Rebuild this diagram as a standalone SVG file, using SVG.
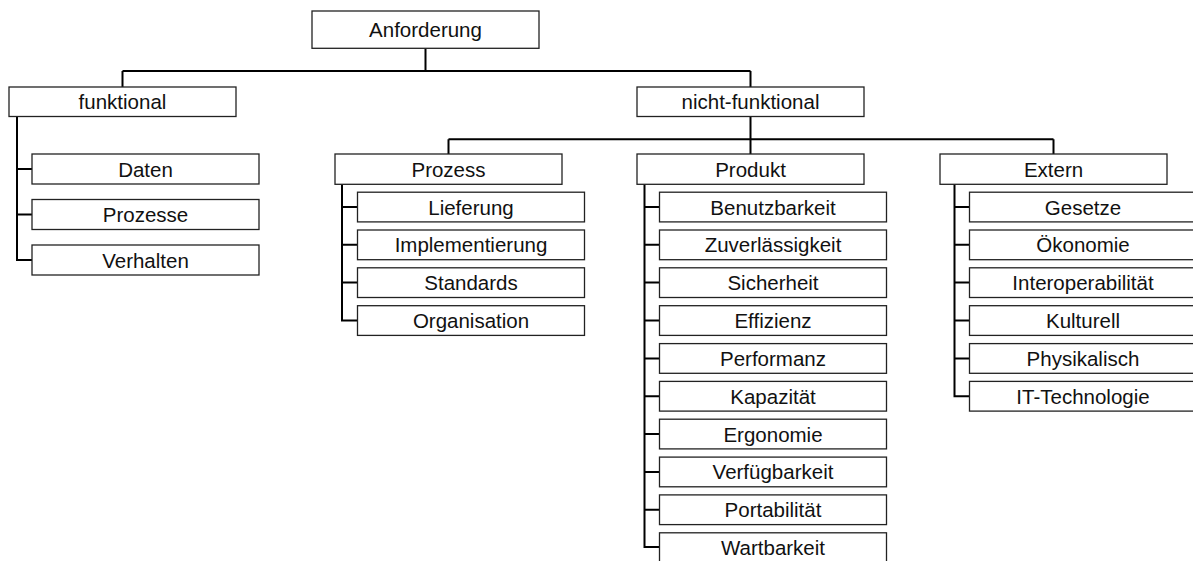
<svg xmlns="http://www.w3.org/2000/svg" width="1193" height="561" viewBox="0 0 1193 561">
  <style>
    .box { fill: #fff; stroke: #222; stroke-width: 1.3; }
    .lbl { font-family: "Liberation Sans", Arial, Helvetica, sans-serif; font-size: 20.5px; fill: #111; text-anchor: middle; }
    .wire { fill: none; stroke: #000; stroke-width: 2; }
  </style>
  <rect width="1193" height="561" fill="#fff"/>

  <!-- connectors -->
  <g id="connectors" class="wire">
    <!-- root to first level -->
    <path d="M425.5 48.5 V71 M122.5 71 H750.5 M122.5 71 V87 M750.5 71 V87"/>
    <!-- nicht-funktional to its three groups -->
    <path d="M750.5 116.5 V154 M448.5 139.3 H1053.5 M448.5 139.3 V154 M1053.5 139.3 V154"/>
    <!-- funktional branch -->
    <path d="M17 116.5 V260 H32 M17 169 H32 M17 214.5 H32"/>
    <!-- Prozess branch -->
    <path d="M342 184.3 V320.5 H357.5 M342 207 H357.5 M342 244.8 H357.5 M342 282.6 H357.5"/>
    <!-- Produkt branch -->
    <path d="M644.5 184.3 V547 H659.5 M644.5 207 H659.5 M644.5 244.8 H659.5 M644.5 282.6 H659.5 M644.5 320.5 H659.5 M644.5 358.4 H659.5 M644.5 396.2 H659.5 M644.5 434 H659.5 M644.5 471.9 H659.5 M644.5 509.7 H659.5"/>
    <!-- Extern branch -->
    <path d="M954.5 184.3 V396.2 H969.5 M954.5 207 H969.5 M954.5 244.8 H969.5 M954.5 282.6 H969.5 M954.5 320.5 H969.5 M954.5 358.4 H969.5"/>
  </g>

  <!-- root -->
  <g id="n-anforderung"><rect class="box" x="312" y="11" width="227" height="37.3"/><text class="lbl" x="425.5" y="37">Anforderung</text></g>

  <!-- first level -->
  <g id="n-funktional"><rect class="box" x="9" y="87" width="227" height="29.5"/><text class="lbl" x="122.5" y="109">funktional</text></g>
  <g id="n-nichtfunktional"><rect class="box" x="637" y="87" width="227" height="29.5"/><text class="lbl" x="750.5" y="109">nicht-funktional</text></g>

  <!-- functional requirements -->
  <g id="n-daten"><rect class="box" x="32" y="154" width="227" height="30"/><text class="lbl" x="145.5" y="176.5">Daten</text></g>
  <g id="n-prozesse"><rect class="box" x="32" y="199.5" width="227" height="30"/><text class="lbl" x="145.5" y="222">Prozesse</text></g>
  <g id="n-verhalten"><rect class="box" x="32" y="245" width="227" height="30"/><text class="lbl" x="145.5" y="267.5">Verhalten</text></g>

  <!-- non-functional groups -->
  <g id="n-prozess"><rect class="box" x="335" y="154" width="227" height="30.3"/><text class="lbl" x="448.5" y="176.7">Prozess</text></g>
  <g id="n-produkt"><rect class="box" x="637" y="154" width="227" height="30.3"/><text class="lbl" x="750.5" y="176.7">Produkt</text></g>
  <g id="n-extern"><rect class="box" x="940" y="154" width="227" height="30.3"/><text class="lbl" x="1053.5" y="176.7">Extern</text></g>

  <!-- Prozess children -->
  <g id="n-lieferung"><rect class="box" x="357.5" y="192.2" width="227" height="29.7"/><text class="lbl" x="471" y="214.5">Lieferung</text></g>
  <g id="n-implementierung"><rect class="box" x="357.5" y="230" width="227" height="29.7"/><text class="lbl" x="471" y="252.3">Implementierung</text></g>
  <g id="n-standards"><rect class="box" x="357.5" y="267.8" width="227" height="29.7"/><text class="lbl" x="471" y="290.1">Standards</text></g>
  <g id="n-organisation"><rect class="box" x="357.5" y="305.7" width="227" height="29.7"/><text class="lbl" x="471" y="328">Organisation</text></g>

  <!-- Produkt children -->
  <g id="n-benutzbarkeit"><rect class="box" x="659.5" y="192.2" width="227" height="29.7"/><text class="lbl" x="773" y="214.5">Benutzbarkeit</text></g>
  <g id="n-zuverlaessigkeit"><rect class="box" x="659.5" y="230" width="227" height="29.7"/><text class="lbl" x="773" y="252.3">Zuverlässigkeit</text></g>
  <g id="n-sicherheit"><rect class="box" x="659.5" y="267.8" width="227" height="29.7"/><text class="lbl" x="773" y="290.1">Sicherheit</text></g>
  <g id="n-effizienz"><rect class="box" x="659.5" y="305.7" width="227" height="29.7"/><text class="lbl" x="773" y="328">Effizienz</text></g>
  <g id="n-performanz"><rect class="box" x="659.5" y="343.6" width="227" height="29.7"/><text class="lbl" x="773" y="365.9">Performanz</text></g>
  <g id="n-kapazitaet"><rect class="box" x="659.5" y="381.4" width="227" height="29.7"/><text class="lbl" x="773" y="403.7">Kapazität</text></g>
  <g id="n-ergonomie"><rect class="box" x="659.5" y="419.2" width="227" height="29.7"/><text class="lbl" x="773" y="441.5">Ergonomie</text></g>
  <g id="n-verfuegbarkeit"><rect class="box" x="659.5" y="457.1" width="227" height="29.7"/><text class="lbl" x="773" y="479.4">Verfügbarkeit</text></g>
  <g id="n-portabilitaet"><rect class="box" x="659.5" y="494.9" width="227" height="29.7"/><text class="lbl" x="773" y="517.2">Portabilität</text></g>
  <g id="n-wartbarkeit"><rect class="box" x="659.5" y="532.8" width="227" height="29.7"/><text class="lbl" x="773" y="555.1">Wartbarkeit</text></g>

  <!-- Extern children -->
  <g id="n-gesetze"><rect class="box" x="969.5" y="192.2" width="227" height="29.7"/><text class="lbl" x="1083" y="214.5">Gesetze</text></g>
  <g id="n-oekonomie"><rect class="box" x="969.5" y="230" width="227" height="29.7"/><text class="lbl" x="1083" y="252.3">Ökonomie</text></g>
  <g id="n-interoperabilitaet"><rect class="box" x="969.5" y="267.8" width="227" height="29.7"/><text class="lbl" x="1083" y="290.1">Interoperabilität</text></g>
  <g id="n-kulturell"><rect class="box" x="969.5" y="305.7" width="227" height="29.7"/><text class="lbl" x="1083" y="328">Kulturell</text></g>
  <g id="n-physikalisch"><rect class="box" x="969.5" y="343.6" width="227" height="29.7"/><text class="lbl" x="1083" y="365.9">Physikalisch</text></g>
  <g id="n-ittechnologie"><rect class="box" x="969.5" y="381.4" width="227" height="29.7"/><text class="lbl" x="1083" y="403.7">IT-Technologie</text></g>
</svg>
